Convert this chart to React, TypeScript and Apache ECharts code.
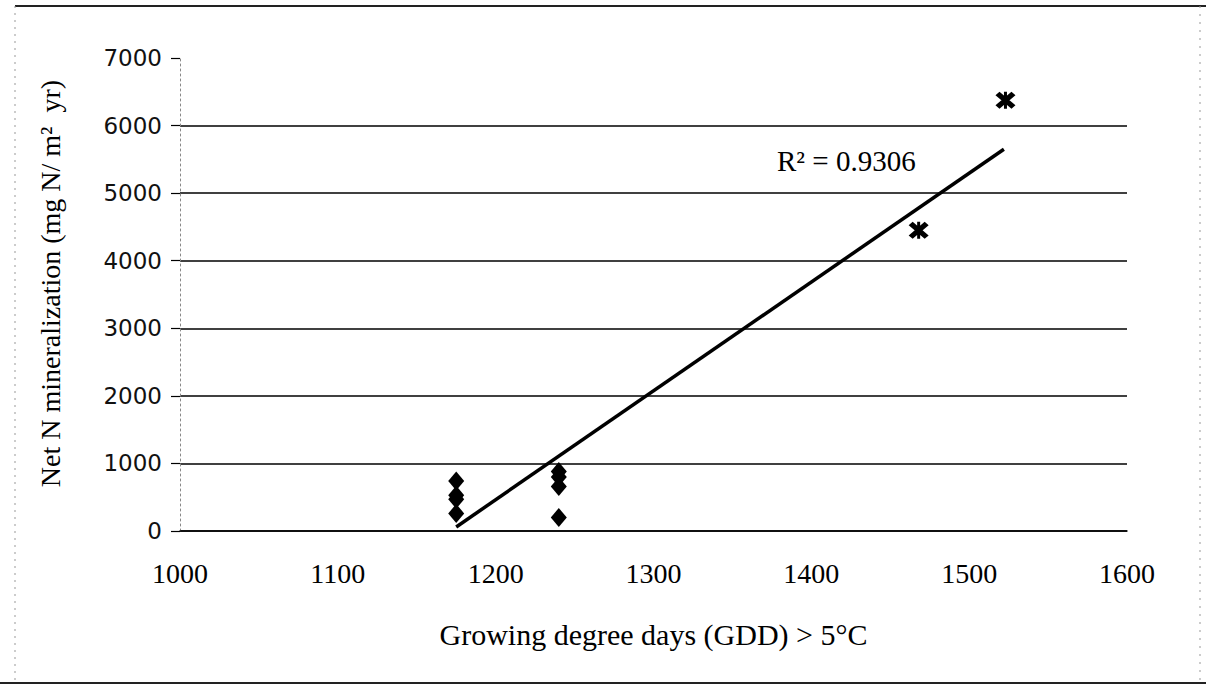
import React, { useEffect, useRef } from "react";
import * as echarts from "echarts";

const xMin = 1000;
const xMax = 1600;
const xStep = 100;
const yMin = 0;
const yMax = 7000;
const yStep = 1000;

const diamondX = [1175, 1175, 1175, 1175, 1240, 1240, 1240, 1240];
const diamondY = [740, 530, 470, 260, 880, 800, 660, 200];
const starX = [1468, 1523];
const starY = [4450, 6375];
const trendX = [1175, 1522];
const trendY = [60, 5650];

const xTitle = "Growing degree days (GDD) > 5°C";
const yTitle = "Net N mineralization (mg N/ m²  yr)";
const r2Text = "R² = 0.9306";

const SERIF = "'Liberation Serif', 'Times New Roman', serif";
const STAR =
  "path://M0,4 L4,0 L20,16 L16,20 Z M16,0 L20,4 L4,20 L0,16 Z M8.5,0 L11.5,0 L11.5,20 L8.5,20 Z";

export default function App() {
  const ref = useRef<HTMLDivElement>(null);
  useEffect(() => {
    if (!ref.current) return;
    const chart = echarts.init(ref.current, undefined, { renderer: "svg" });
    const zip = (xs: number[], ys: number[]) => xs.map((x, i) => [x, ys[i]]);
    chart.setOption({
      animation: false,
      backgroundColor: "#ffffff",
      grid: { left: 180, right: 79, top: 58, bottom: 159 },
      xAxis: {
        type: "value",
        min: xMin,
        max: xMax,
        interval: xStep,
        axisLine: { show: true, lineStyle: { color: "#000", width: 1.5 } },
        axisTick: { show: false },
        splitLine: { show: false },
        axisLabel: {
          fontFamily: SERIF,
          fontSize: 28,
          color: "#000",
          margin: 28,
          formatter: (v: number) => String(v),
          showMinLabel: true,
          showMaxLabel: true,
        },
        name: xTitle,
        nameLocation: "middle",
        nameGap: 88,
        nameTextStyle: { fontFamily: SERIF, fontSize: 30, color: "#000" },
      },
      yAxis: {
        type: "value",
        min: yMin,
        max: yMax,
        interval: yStep,
        axisLine: {
          show: true,
          lineStyle: { color: "#888", width: 1, type: [2, 3] },
        },
        axisTick: {
          show: true,
          length: 9,
          lineStyle: { color: "#000", width: 1.2 },
        },
        splitLine: {
          show: true,
          showMaxLine: false,
          lineStyle: { color: "#000", width: 1.5 },
        },
        axisLabel: {
          fontFamily: "'DejaVu Sans', sans-serif",
          fontSize: 23,
          color: "#111",
          margin: 18,
          formatter: (v: number) => String(v),
        },
        name: yTitle,
        nameLocation: "middle",
        nameRotate: 90,
        nameGap: 116,
        nameTextStyle: {
          fontFamily: SERIF,
          fontSize: 28,
          color: "#000",
          padding: [0, 0, 0, 22],
        },
      },
      graphic: [
        {
          type: "line",
          shape: { x1: 15, y1: 6, x2: 1206, y2: 6 },
          style: { stroke: "#222", lineWidth: 2 },
          silent: true,
        },
        {
          type: "line",
          shape: { x1: 0, y1: 683, x2: 1206, y2: 683 },
          style: { stroke: "#222", lineWidth: 2 },
          silent: true,
        },
        {
          type: "line",
          shape: { x1: 15, y1: 6, x2: 15, y2: 683 },
          style: { stroke: "#999", lineWidth: 1, lineDash: [2, 5] },
          silent: true,
        },
        {
          type: "line",
          shape: { x1: 1200, y1: 6, x2: 1200, y2: 683 },
          style: { stroke: "#999", lineWidth: 1, lineDash: [2, 6] },
          silent: true,
        },
        {
          type: "text",
          left: 777,
          top: 146,
          style: {
            text: r2Text,
            fontFamily: SERIF,
            fontSize: 29,
            fill: "#000",
          },
          silent: true,
        },
      ],
      series: [
        {
          type: "line",
          data: zip(trendX, trendY),
          showSymbol: false,
          symbol: "none",
          lineStyle: { color: "#000", width: 3.5 },
          z: 3,
        },
        {
          type: "scatter",
          data: zip(diamondX, diamondY),
          symbol: "diamond",
          symbolSize: [16, 19],
          itemStyle: { color: "#000", opacity: 1 },
          z: 4,
        },
        {
          type: "scatter",
          data: zip(starX, starY),
          symbol: STAR,
          symbolSize: [20, 17],
          itemStyle: { color: "#000", opacity: 1 },
          z: 4,
        },
      ],
    });
    return () => chart.dispose();
  }, []);
  return (
    <div
      ref={ref}
      style={{ position: "fixed", left: 0, top: 0, width: 1206, height: 690 }}
    />
  );
}
